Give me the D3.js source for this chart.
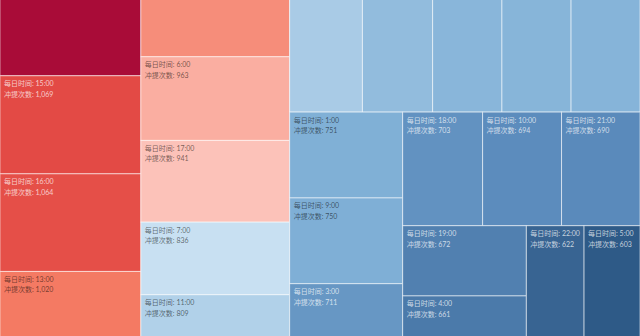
<!DOCTYPE html>
<html><head><meta charset="utf-8">
<script src="https://cdn.jsdelivr.net/npm/d3@7"></script>
<style>html,body{margin:0;padding:0;background:#fff;overflow:hidden}</style>
</head><body><svg id="c" width="640" height="336"></svg>
<script>
// ---- data ----
const hours  = ["14:00","15:00","16:00","13:00","12:00","6:00","17:00","7:00","11:00","20:00","23:00","0:00","8:00","2:00","1:00","9:00","3:00","18:00","10:00","21:00","19:00","4:00","22:00","5:00"];
const counts = [1153,1069,1064,1020,999,963,941,836,809,800,772,762,760,758,751,750,711,703,694,690,672,661,622,603];
const timeLabel  = "每日时间";
const countLabel = "冲提次数";
const colorDomain = [603,690,750,836,878,941,1020,1069,1153];
const colorRange  = ["#2e5a87","#5a8abb","#7fafd6","#c8e0f2","#f3efee","#fcc2b9","#f47a63","#e34a45","#a90c38"];

// ---- layout ----
const W = 640, H = 336, fullH = 395, offsetY = -30;
const svg = d3.select("#c");
const data = hours.map((h,i)=>({hour:h, value:counts[i]}));
const root = d3.hierarchy({children:data}).sum(d=>d.value).sort((a,b)=>b.value-a.value);
d3.treemap().tile(d3.treemapSquarify).size([W, fullH]).round(false)(root);

const color = d3.scaleLinear().domain(colorDomain).range(colorRange).interpolate(d3.interpolateRgb);
const fmt = d3.format(",");

svg.append("defs").append("clipPath").attr("id","clip")
  .append("rect").attr("width",W).attr("height",H);

const g = svg.append("g").attr("clip-path","url(#clip)")
  .append("g").attr("transform",`translate(0,${offsetY})`);

const cell = g.selectAll("g.cell").data(root.leaves()).join("g")
  .attr("class","cell")
  .attr("transform",d=>`translate(${d.x0},${d.y0})`);

cell.append("rect")
  .attr("width",d=>d.x1-d.x0)
  .attr("height",d=>d.y1-d.y0)
  .attr("fill",d=>color(d.data.value))
  .attr("stroke","#ffffff").attr("stroke-opacity",0.55).attr("stroke-width",1);

// labels only for cells whose top-left label lies inside the visible window
const labelled = cell.filter(d => d.y0 + offsetY >= 0);
const txt = labelled.append("text")
  .attr("x",4)
  .style("font-family","Lato, 'Noto Sans CJK SC', sans-serif")
  .style("font-size","7px")
  .attr("fill",d=> d3.lab(color(d.data.value)).l < 62 ? "#ffffff" : "#000000")
  .attr("fill-opacity",d=> d3.lab(color(d.data.value)).l < 62 ? 0.72 : 0.55);
txt.append("tspan").attr("x",4).attr("y",10.5).text(d=>`${timeLabel}: ${d.data.hour}`);
txt.append("tspan").attr("x",4).attr("y",21).text(d=>`${countLabel}: ${fmt(d.data.value)}`);
</script></body></html>
